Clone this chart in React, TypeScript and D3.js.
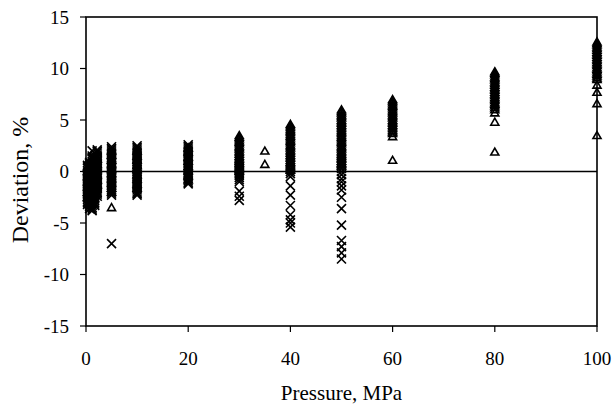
import React from "react";
import * as d3 from "d3";

// Pressure groups (MPa) at which deviations were measured
const pressures = [0.3, 0.7, 1.2, 1.7, 2.2, 5, 10, 20, 30, 35, 40, 50, 60, 80, 100];

// Deviation (%) of series 1 (× markers), one list per pressure group
const crossDeviations: number[][] = [
  [0.6, 0.45, 0.3, 0.1, -0.05, -0.2, -0.4, -0.55, -0.7, -0.9, -1.05, -1.2, -1.4, -1.55, -1.7, -1.9, -2.05, -2.2, -2.4, -2.55, -2.7, -2.9, -3.05, -3.2],
  [0.9, 0.75, 0.6, 0.4, 0.25, 0.1, -0.1, -0.25, -0.4, -0.6, -0.75, -0.9, -1.1, -1.25, -1.4, -1.6, -1.75, -1.9, -2.1, -2.25, -2.4, -2.6, -2.75, -2.9, -3.1, -3.25, -3.4, -3.6],
  [2.0, 1.5, 1.35, 1.2, 1.0, 0.85, 0.7, 0.5, 0.35, 0.2, 0.0, -0.15, -0.3, -0.5, -0.65, -0.8, -1.0, -1.15, -1.3, -1.5, -1.65, -1.8, -2.0, -2.15, -2.3, -2.5, -2.65, -2.8, -3.0, -3.15, -3.3, -3.5, -3.65, -3.8],
  [1.5, 1.35, 1.2, 1.0, 0.85, 0.7, 0.5, 0.35, 0.2, 0.0, -0.15, -0.3, -0.5, -0.65, -0.8, -1.0, -1.15, -1.3, -1.5, -1.65, -1.8, -2.0, -2.15, -2.3, -2.5, -2.65, -2.8, -3.0, -3.15, -3.3],
  [2.1, 1.95, 1.8, 1.6, 1.45, 1.3, 1.1, 0.95, 0.8, 0.6, 0.45, 0.3, 0.1, -0.05, -0.2, -0.4, -0.55, -0.7, -0.9, -1.05, -1.2, -1.4, -1.55, -1.7, -1.9, -2.05, -2.2, -2.4],
  [2.4, 2.25, 2.1, 1.9, 1.75, 1.6, 1.4, 1.25, 1.1, 0.9, 0.75, 0.6, 0.4, 0.25, 0.1, -0.1, -0.25, -0.4, -0.6, -0.75, -0.9, -1.1, -1.25, -1.4, -1.6, -1.75, -1.9, -2.1, -2.3, -7.0],
  [2.5, 2.35, 2.2, 2.0, 1.85, 1.7, 1.5, 1.35, 1.2, 1.0, 0.85, 0.7, 0.5, 0.35, 0.2, 0.0, -0.15, -0.3, -0.5, -0.65, -0.8, -1.0, -1.15, -1.3, -1.5, -1.65, -1.8, -2.0, -2.15, -2.3],
  [2.6, 2.45, 2.3, 2.1, 1.95, 1.8, 1.6, 1.45, 1.3, 1.1, 0.95, 0.8, 0.6, 0.45, 0.3, 0.1, -0.05, -0.2, -0.4, -0.55, -0.7, -0.9, -1.05, -1.2],
  [0.4, 0.25, 0.1, -0.1, -0.25, -0.4, -0.6, -0.8, -1.0, -1.9, -2.4, -2.8],
  [],
  [0.2, 0.0, -0.2, -0.5, -1.4, -2.3, -3.3, -4.2, -4.7, -5.0, -5.4],
  [0.9, 0.6, 0.3, 0.0, -0.3, -0.7, -1.0, -1.4, -1.8, -2.5, -3.6, -5.2, -6.7, -7.3, -7.9, -8.5],
  [],
  [],
  [],
];

// Deviation (%) of series 2 (△ markers), one list per pressure group
const triangleDeviations: number[][] = [
  [0.4, 0.0, -0.5, -1.0, -1.5, -2.0, -2.5],
  [0.6, 0.1, -0.4, -0.9, -1.4, -1.9, -2.4, -2.9],
  [1.0, 0.5, 0.0, -0.5, -1.0, -1.5, -2.0, -2.5, -3.0],
  [0.8, 0.3, -0.2, -0.7, -1.2, -1.7, -2.2],
  [1.2, 0.7, 0.2, -0.3, -0.8, -1.3],
  [2.0, 1.6, 1.1, 0.7, 0.2, -0.2, -0.7, -1.1, -1.6, -2.0, -3.5],
  [2.0, 1.5, 1.1, 0.6, 0.2, -0.3, -0.7, -1.2, -1.6],
  [2.3, 1.9, 1.4, 1.0, 0.5, 0.1, -0.4, -0.8],
  [3.5, 3.35, 3.2, 3.0, 2.85, 2.7, 2.5, 2.35, 2.2, 2.0, 1.85, 1.7, 1.5, 1.35, 1.2, 1.0, 0.85, 0.7, 0.5, 0.35, 0.2, 0.05],
  [2.0, 0.7],
  [4.6, 4.45, 4.3, 4.1, 3.95, 3.8, 3.6, 3.45, 3.3, 3.1, 2.95, 2.8, 2.6, 2.45, 2.3, 2.1, 1.95, 1.8, 1.6, 1.45, 1.3, 1.1, 0.95, 0.8, 0.6, 0.45, 0.3, 0.15],
  [6.0, 5.85, 5.7, 5.5, 5.35, 5.2, 5.0, 4.85, 4.7, 4.5, 4.35, 4.2, 4.0, 3.85, 3.7, 3.5, 3.35, 3.2, 3.0, 2.85, 2.7, 2.5, 2.35, 2.2, 2.0, 1.85, 1.7, 1.5, 1.35, 1.2, 1.0, 0.85, 0.7, 0.55],
  [7.0, 6.85, 6.7, 6.5, 6.35, 6.2, 6.0, 5.85, 5.7, 5.5, 5.35, 5.2, 5.0, 4.85, 4.7, 4.5, 4.35, 4.2, 4.0, 3.85, 3.7, 3.4, 1.1],
  [9.7, 9.55, 9.4, 9.2, 9.05, 8.9, 8.7, 8.55, 8.4, 8.2, 8.05, 7.9, 7.7, 7.55, 7.4, 7.2, 7.05, 6.9, 6.7, 6.55, 6.4, 6.2, 6.0, 5.7, 4.8, 1.9],
  [12.6, 12.45, 12.3, 12.1, 11.95, 11.8, 11.6, 11.45, 11.3, 11.1, 10.95, 10.8, 10.6, 10.45, 10.3, 10.1, 9.95, 9.8, 9.6, 9.45, 9.3, 9.1, 8.95, 8.4, 7.7, 6.6, 3.5],
];

const xTicks = [0, 20, 40, 60, 80, 100];
const yTicks = [-15, -10, -5, 0, 5, 10, 15];
const xTitle = "Pressure, MPa";
const yTitle = "Deviation, %";

const W = 613;
const H = 407;
const FONT = "'Liberation Serif', 'Times New Roman', serif";

export default function App() {
  const x = d3.scaleLinear().domain([0, 100]).range([86, 597]);
  const y = d3.scaleLinear().domain([-15, 15]).range([326, 17]);

  const crossPts = pressures.flatMap((p, i) => crossDeviations[i].map((d) => [p, d]));
  const triPts = pressures.flatMap((p, i) => triangleDeviations[i].map((d) => [p, d]));

  const tri = d3.symbol().type(d3.symbolTriangle).size(28)();

  return (
    <svg
      width={W}
      height={H}
      style={{ position: "absolute", left: 0, top: 0, background: "#fff" }}
      fontFamily={FONT}
    >
      <rect x={0} y={0} width={W} height={H} fill="#fff" />
      {/* frame */}
      <rect
        x={x(0)}
        y={y(15)}
        width={x(100) - x(0)}
        height={y(-15) - y(15)}
        fill="none"
        stroke="#000"
        strokeWidth={1.6}
      />
      {/* zero line */}
      <line x1={x(0)} x2={x(100)} y1={y(0)} y2={y(0)} stroke="#000" strokeWidth={1.5} />

      {/* y ticks */}
      {yTicks.map((t) => (
        <g key={"y" + t}>
          <line x1={x(0) - 6} x2={x(0)} y1={y(t)} y2={y(t)} stroke="#000" strokeWidth={1.2} />
          <text x={69} y={y(t)} dy="0.35em" textAnchor="end" fontSize={19}>
            {t}
          </text>
        </g>
      ))}
      {/* x ticks */}
      {xTicks.map((t) => (
        <g key={"x" + t}>
          <line x1={x(t)} x2={x(t)} y1={y(-15)} y2={y(-15) + 6} stroke="#000" strokeWidth={1.2} />
          <text x={x(t)} y={365} textAnchor="middle" fontSize={19}>
            {t}
          </text>
        </g>
      ))}

      {/* triangles */}
      {triPts.map(([p, d], i) => (
        <path
          key={"t" + i}
          d={tri}
          transform={`translate(${x(p)},${y(d) + 0.8})`}
          fill="none"
          stroke="#000"
          strokeWidth={1.6}
        />
      ))}
      {/* crosses */}
      {crossPts.map(([p, d], i) => (
        <path
          key={"c" + i}
          d="M-4.5,-4.5L4.5,4.5M-4.5,4.5L4.5,-4.5"
          transform={`translate(${x(p)},${y(d)})`}
          fill="none"
          stroke="#000"
          strokeWidth={1.6}
        />
      ))}

      <text x={(x(0) + x(100)) / 2} y={400} textAnchor="middle" fontSize={21}>
        {xTitle}
      </text>
      <text transform="translate(28,180) rotate(-90)" textAnchor="middle" fontSize={24}>
        {yTitle}
      </text>
    </svg>
  );
}
